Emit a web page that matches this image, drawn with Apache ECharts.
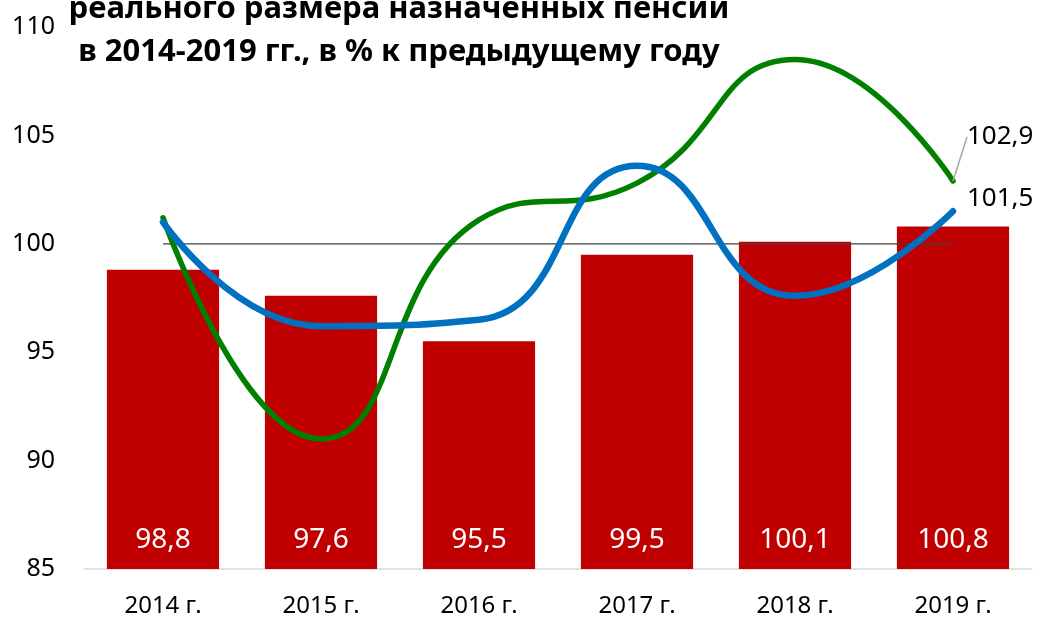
<!DOCTYPE html>
<html>
<head>
<meta charset="utf-8">
<script src="https://cdn.jsdelivr.net/npm/echarts@6/dist/echarts.min.js"></script>
<style>
  html, body { margin: 0; padding: 0; background: #fff; }
  #chart { width: 1043px; height: 619px; }
</style>
</head>
<body>
<div id="chart"></div>
<script>
  // data
  var categories = ['2014 г.', '2015 г.', '2016 г.', '2017 г.', '2018 г.', '2019 г.'];
  var barValues = [98.8, 97.6, 95.5, 99.5, 100.1, 100.8];
  var greenValues = [101.2, 91.0, 101.1, 102.8, 108.5, 102.9];
  var blueValues = [101.0, 96.2, 96.5, 103.6, 97.6, 101.5];
  var baseValues = [100, 100, 100, 100, 100, 100];
  var yTicks = { min: 85, max: 110, interval: 5 };

  var font = '"Noto Sans", sans-serif';

  function comma(v) {
    return String(v).replace('.', ',');
  }

  // only the last point gets a label
  function lastLabelled(values) {
    return values.map(function (v, i) {
      if (i === values.length - 1) {
        return { value: v, label: { show: true } };
      }
      return v;
    });
  }

  var chartDom = document.getElementById('chart');
  var myChart = echarts.init(chartDom);

  var option = {
    animation: false,
    title: {
      text: 'реального размера назначенных пенсий\nв 2014-2019 гг., в % к предыдущему году',
      left: 399,
      top: -12,
      padding: 0,
      textAlign: 'center',
      textStyle: {
        fontFamily: font,
        fontWeight: 'bold',
        fontSize: 31,
        lineHeight: 43,
        color: '#000'
      }
    },
    grid: {
      left: 84,
      right: 11,
      top: 27,
      bottom: 50
    },
    xAxis: {
      type: 'category',
      data: categories,
      axisTick: { show: false },
      axisLine: { lineStyle: { color: '#d9d9d9', width: 1.5 } },
      axisLabel: {
        fontFamily: font,
        fontSize: 24,
        color: '#000',
        margin: 25
      }
    },
    yAxis: {
      type: 'value',
      min: yTicks.min,
      max: yTicks.max,
      interval: yTicks.interval,
      splitLine: { show: false },
      axisLine: { show: false },
      axisLabel: {
        fontFamily: font,
        fontSize: 25,
        color: '#000',
        margin: 29
      }
    },
    series: [
      {
        type: 'bar',
        data: barValues,
        barWidth: '71%',
        itemStyle: { color: '#c00000' },
        label: {
          show: true,
          position: 'insideBottom',
          distance: 15,
          fontFamily: font,
          fontSize: 28,
          color: '#fff',
          formatter: function (p) { return comma(p.value); }
        }
      },
      {
        type: 'line',
        data: baseValues,
        symbol: 'none',
        lineStyle: { color: '#404040', width: 1.3 },
        z: 3
      },
      {
        type: 'line',
        data: lastLabelled(greenValues),
        smooth: 0.5,
        symbol: 'circle',
        symbolSize: 0,
        lineStyle: { color: '#008000', width: 5.5, cap: 'round' },
        itemStyle: { color: '#008000' },
        label: {
          show: false,
          position: 'right',
          distance: 14,
          fontFamily: font,
          fontSize: 26,
          color: '#000',
          formatter: function (p) { return comma(p.value); }
        },
        labelLayout: { dy: -44 },
        labelLine: {
          show: true,
          lineStyle: { color: '#a6a6a6', width: 1.5 }
        },
        z: 4
      },
      {
        type: 'line',
        data: lastLabelled(blueValues),
        smooth: 0.5,
        symbol: 'circle',
        symbolSize: 0,
        lineStyle: { color: '#0070c0', width: 6.5, cap: 'round' },
        itemStyle: { color: '#0070c0' },
        label: {
          show: false,
          position: 'right',
          distance: 14,
          offset: [0, -13],
          fontFamily: font,
          fontSize: 26,
          color: '#000',
          formatter: function (p) { return comma(p.value); }
        },
        z: 5
      }
    ]
  };

  option && myChart.setOption(option);
</script>
</body>
</html>
